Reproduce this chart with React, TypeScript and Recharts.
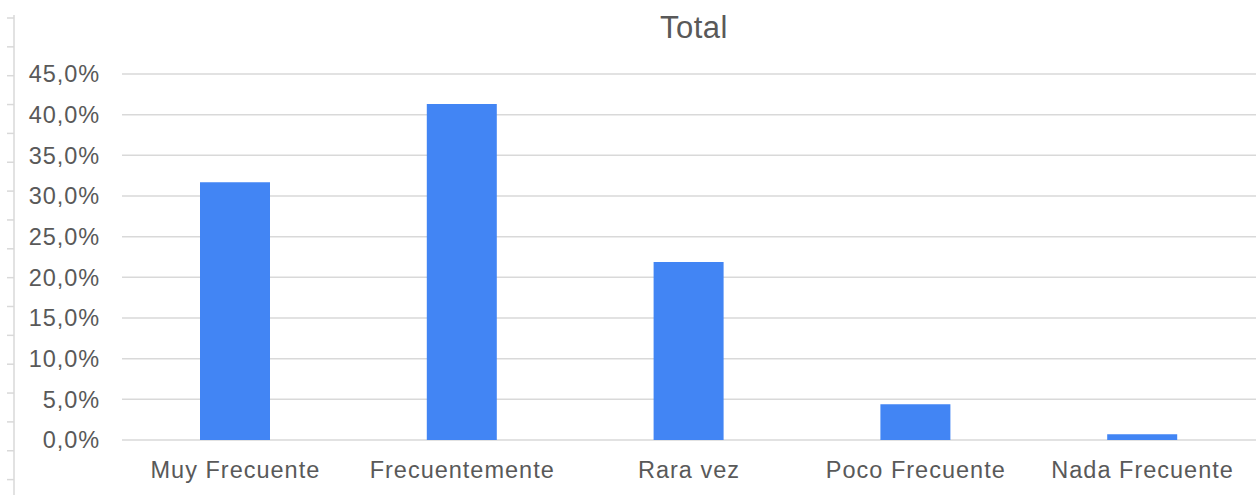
import React from "react";
import { BarChart, Bar, XAxis, YAxis, CartesianGrid } from "recharts";

const categories = ["Muy Frecuente", "Frecuentemente", "Rara vez", "Poco Frecuente", "Nada Frecuente"];
const values = [31.7, 41.3, 21.9, 4.4, 0.7];
const yTicks = [0, 5, 10, 15, 20, 25, 30, 35, 40, 45];
const title = "Total";

const data = categories.map((c, i) => ({ name: c, value: values[i] }));

const FONT = "'Liberation Sans', Arial, sans-serif";
const TEXT = "#595959";

export default function App() {
  const rowTicks = Array.from({ length: 17 }, (_, i) => 18 + i * 28.85);
  return (
    <div style={{ position: "absolute", left: 0, top: 0, width: 1256, height: 495, background: "#fff", fontFamily: FONT }}>
      <BarChart width={1256} height={495} data={data} margin={{ top: 74, right: 0, bottom: 0, left: 0 }}>
        <CartesianGrid vertical={false} stroke="#d9d9d9" strokeWidth={1.5} />
        <XAxis
          dataKey="name"
          axisLine={false}
          tickLine={false}
          tickSize={0}
          tickMargin={21}
          height={55}
          interval={0}
          tick={{ fill: TEXT, fontSize: 23.5, fontFamily: FONT, letterSpacing: 1 }}
        />
        <YAxis
          type="number"
          domain={[0, 45]}
          ticks={yTicks}
          width={122}
          axisLine={false}
          tickLine={false}
          tickSize={0}
          tickMargin={22}
          tickFormatter={(v: number) => v.toFixed(1).replace(".", ",") + "%"}
          tick={{ fill: TEXT, fontSize: 23.5, fontFamily: FONT, letterSpacing: 0.9 }}
        />
        <Bar dataKey="value" fill="#4285f4" barSize={70} isAnimationActive={false} />
      </BarChart>
      <svg width={1256} height={495} style={{ position: "absolute", left: 0, top: 0, pointerEvents: "none" }}>
        <text x={694} y={38} textAnchor="middle" fill={TEXT} fontSize={31} letterSpacing={0.5} fontFamily={FONT}>
          {title}
        </text>
        <line x1={14} y1={15} x2={14} y2={495} stroke="#d9d9d9" strokeWidth={1.5} />
        {rowTicks.map((y, i) => (
          <line key={i} x1={7} y1={y} x2={14} y2={y} stroke="#d9d9d9" strokeWidth={1.5} />
        ))}
      </svg>
    </div>
  );
}
